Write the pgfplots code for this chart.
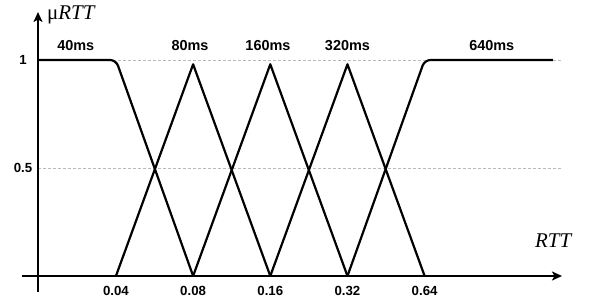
\documentclass[border=0pt]{standalone}
\usepackage{pgfplots}
\pgfplotsset{compat=1.18}
\usetikzlibrary{arrows.meta}
\usepackage{fontspec}
\setmainfont{Liberation Sans}
\newfontfamily\tnr{Liberation Serif}
\begin{document}
\begin{tikzpicture}[x=1bp,y=1bp]
\useasboundingbox (0,0) rectangle (603,304);
\begin{axis}[
  at={(38bp,28bp)}, anchor=south west,
  scale only axis, width=524bp, height=264bp,
  xmin=-1.01, xmax=5.78, ymin=0, ymax=1.222,
  clip=false,
  axis line style={draw=none},
  major tick length=0pt,
  xtick={0,1,2,3,4},
  xticklabels={0.04,0.08,0.16,0.32,0.64},
  ytick={0.5,1},
  yticklabels={0.5,1},
  ymajorgrids,
  grid style={gray!55, line width=0.6bp, dash pattern=on 2.5bp off 2.5bp},
  ticklabel style={font=\bfseries\fontsize{13.3}{15}\selectfont},
  xticklabel style={yshift=-6.5bp},
  yticklabel style={anchor=center, xshift=-15bp},
]
\addplot[black, line width=2.2bp, rounded corners=6bp] coordinates {(-1.01,1) (0,1) (1,0)};
\addplot[black, line width=2.2bp, line join=round] coordinates {(0,0) (1,0.98) (2,0)};
\addplot[black, line width=2.2bp, line join=round] coordinates {(1,0) (2,0.98) (3,0)};
\addplot[black, line width=2.2bp, line join=round] coordinates {(2,0) (3,0.98) (4,0)};
\addplot[black, line width=2.2bp, rounded corners=6bp] coordinates {(3,0) (4,1) (5.66,1)};
\draw[black, line width=2bp, -{Stealth[length=10bp,width=9bp,inset=2.5bp]}] (axis cs:-1.218,0) -- (axis cs:5.78,0);
\draw[black, line width=2bp, -{Stealth[length=10bp,width=9bp,inset=2.5bp]}] (axis cs:-1.01,-0.074) -- (axis cs:-1.01,1.222);
\node[font=\bfseries\fontsize{14.5}{16}\selectfont] at (axis cs:-0.52,1.069) {40ms};
\node[font=\bfseries\fontsize{14.5}{16}\selectfont] at (axis cs:0.96,1.069) {80ms};
\node[font=\bfseries\fontsize{14.5}{16}\selectfont] at (axis cs:1.97,1.069) {160ms};
\node[font=\bfseries\fontsize{14.5}{16}\selectfont] at (axis cs:3.0,1.069) {320ms};
\node[font=\bfseries\fontsize{14.5}{16}\selectfont] at (axis cs:4.87,1.069) {640ms};
\node[anchor=base west, inner sep=0pt, font=\tnr\fontsize{21}{24}\selectfont] at (axis cs:-0.894,1.185) {μ\textit{RTT}};
\node[anchor=base west, inner sep=0pt, font=\tnr\fontsize{21}{24}\selectfont] at (axis cs:5.43,0.134) {\textit{RTT}};
\end{axis}
\end{tikzpicture}
\end{document}
